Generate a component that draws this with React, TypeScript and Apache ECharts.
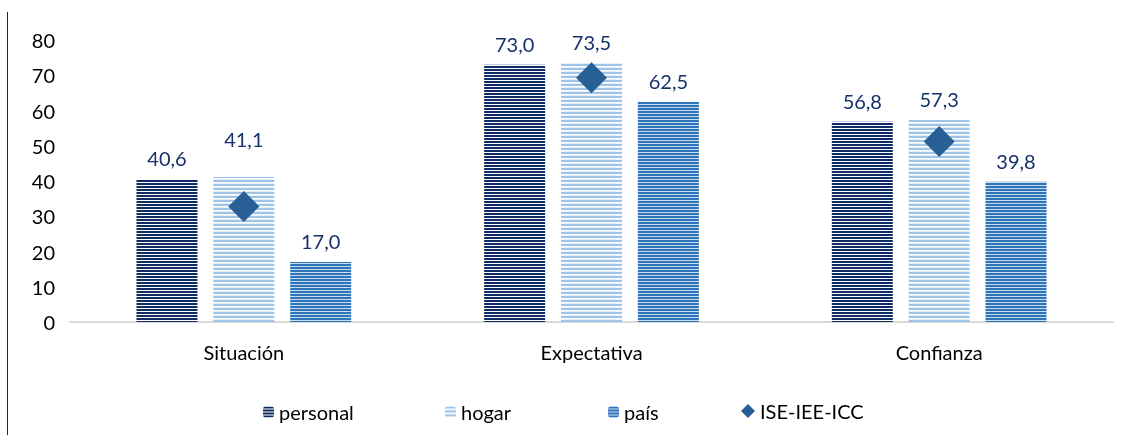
import React, { useEffect, useRef } from "react";
import * as echarts from "echarts";

const categories = ["Situación", "Expectativa", "Confianza"];
const personal = [40.6, 73.0, 56.8];
const hogar = [41.1, 73.5, 57.3];
const pais = [17.0, 62.5, 39.8];
const indice = [32.8, 69.3, 51.2];
const seriesNames = ["personal", "hogar", "país", "ISE-IEE-ICC"];

function stripes(rows: string[]): HTMLCanvasElement {
  const c = document.createElement("canvas");
  c.width = 4;
  c.height = rows.length;
  const ctx = c.getContext("2d")!;
  rows.forEach((col, i) => {
    ctx.fillStyle = col;
    ctx.fillRect(0, i, 4, 1);
  });
  return c;
}

export default function App() {
  const ref = useRef<HTMLDivElement>(null);
  useEffect(() => {
    if (!ref.current) return;
    const chart = echarts.init(ref.current, undefined, { renderer: "svg" });
    const pPersonal = { image: stripes(["#0f2b63", "#0f2b63", "#ffffff"]), repeat: "repeat" };
    const pHogar = { image: stripes(["#9ec3e8", "#9ec3e8", "#ffffff", "#e6f0fa"]), repeat: "repeat" };
    const pPais = { image: stripes(["#2f74b8", "#2f74b8", "#c6dcf1"]), repeat: "repeat" };
    const labelStyle = {
      show: true,
      position: "top",
      distance: 11,
      color: "#15306a",
      fontSize: 20,
      fontFamily: "Lato",
      formatter: (p: any) => p.value.toFixed(1).replace(".", ","),
    };
    const font = "Lato";
    const legendBase = {
      itemWidth: 11,
      itemHeight: 11,
      top: 397,
      textStyle: { fontSize: 20, fontFamily: font, color: "#000" },
    };
    chart.setOption({
      animation: false,
      grid: { left: 70, right: 17, top: 40, bottom: 113 },
      legend: [
        { ...legendBase, data: [seriesNames[0]], left: 258, itemGap: 6 },
        { ...legendBase, data: [seriesNames[1]], left: 440, itemGap: 12 },
        { ...legendBase, data: [seriesNames[2]], left: 603, itemGap: 6 },
        { ...legendBase, data: [{ name: seriesNames[3], icon: "diamond" }], left: 736, itemWidth: 14, itemHeight: 14, itemGap: 6, top: 396 },
      ],
      graphic: [
        { type: "line", shape: { x1: 7.5, y1: 12, x2: 7.5, y2: 435 }, style: { stroke: "#1a1a8c", lineWidth: 1 } },
      ],
      xAxis: {
        type: "category",
        data: categories,
        axisLine: { lineStyle: { color: "#d9d9d9", width: 2 } },
        axisTick: { show: false },
        axisLabel: { fontSize: 20, fontFamily: font, color: "#000", margin: 20 },
      },
      yAxis: {
        type: "value",
        min: 0,
        max: 80,
        interval: 10,
        splitLine: { show: false },
        axisLine: { show: false },
        axisLabel: { fontSize: 20, fontFamily: font, color: "#000", margin: 15 },
      },
      series: [
        {
          name: seriesNames[0],
          type: "bar",
          data: personal,
          barWidth: 61,
          barGap: "26%",
          itemStyle: { color: pPersonal },
          label: labelStyle,
        },
        {
          name: seriesNames[1],
          type: "bar",
          data: hogar.map((v, i) =>
            i === 0 ? { value: v, label: { distance: 28 } } : v
          ),
          barWidth: 61,
          itemStyle: { color: pHogar },
          label: labelStyle,
        },
        {
          name: seriesNames[2],
          type: "bar",
          data: pais,
          barWidth: 61,
          itemStyle: { color: pPais },
          label: labelStyle,
        },
        {
          name: seriesNames[3],
          type: "scatter",
          data: indice,
          symbol: "diamond",
          symbolSize: 31,
          itemStyle: { color: "#285f94", opacity: 1 },
          z: 5,
        },
      ],
    });
    return () => chart.dispose();
  }, []);
  return (
    <div
      ref={ref}
      style={{ position: "fixed", left: 0, top: 0, width: 1130, height: 435 }}
    />
  );
}
